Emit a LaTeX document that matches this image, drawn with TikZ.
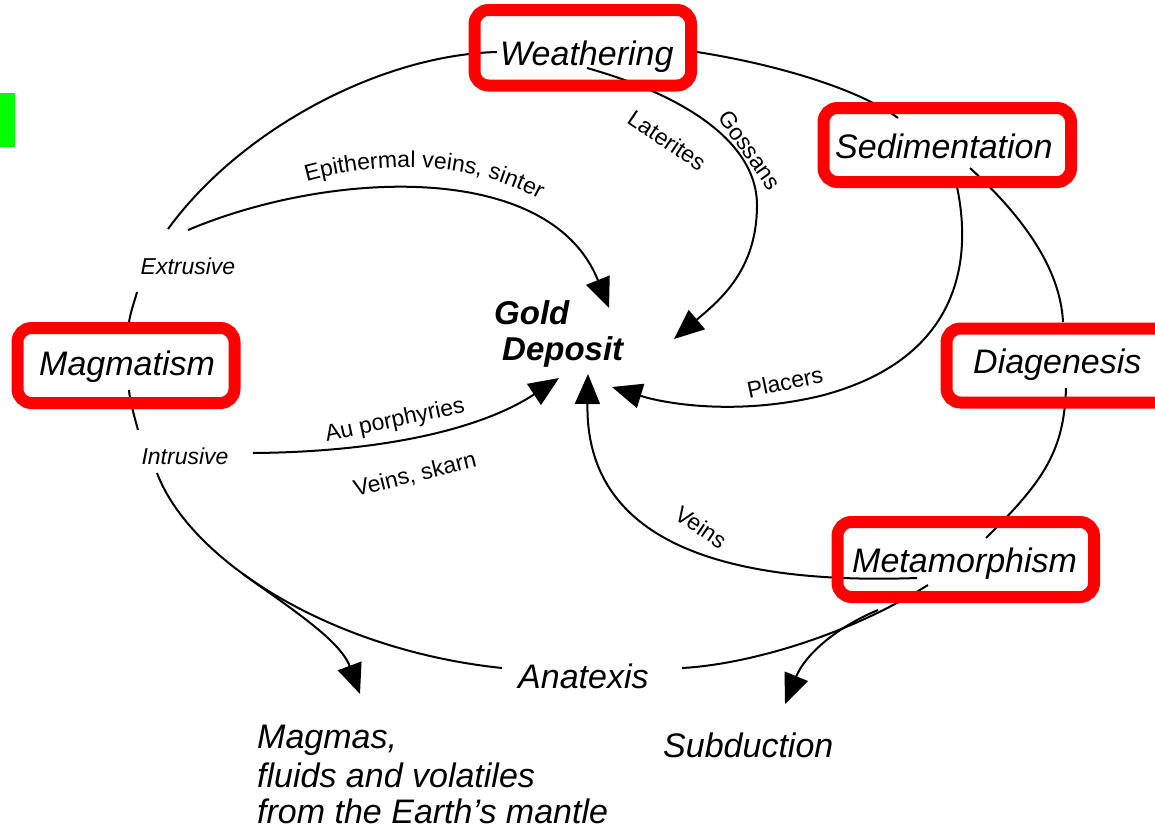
\documentclass[tikz,border=0pt]{standalone}
\usepackage{fontspec}
\setmainfont{Liberation Sans}
\usetikzlibrary{arrows.meta,decorations.text}
\newcommand\smallf{\fontsize{23}{26}\selectfont}
\newcommand\bigf{\fontsize{34}{40}\selectfont\itshape}
\begin{document}
\begin{tikzpicture}[x=1pt,y=-1pt,
  curve/.style={line width=2pt, black},
  arr/.style={curve, -{Triangle[length=30pt,width=25pt]}},
  redbox/.style={draw=red, line width=12pt, rounded corners=14pt},
  lbl/.style={inner sep=0pt, font=\bigf, anchor=base west},
  small/.style={inner sep=0pt, font=\smallf},
  smallit/.style={inner sep=0pt, font=\smallf\itshape},
  boldit/.style={inner sep=0pt, font=\fontsize{33}{36}\selectfont\bfseries\itshape, anchor=base west}]
\useasboundingbox (0,0) rectangle (1155,830);
\clip (0,0) rectangle (1155,830);
\fill[white] (0,0) rectangle (1155,830);
\fill[green] (0,93) rectangle (15,147);

% ---- texts
\node[lbl] (weath) at (500,65) {Weathering};
\node[lbl] (sedim) at (835,158) {Sedimentation};
\node[lbl] (magma) at (39,375) {Magmatism};
\node[lbl] (diag) at (973,373) {Diagenesis};
\node[lbl] (meta) at (852,572) {Metamorphism};
\node[lbl] (anat) at (518,688) {Anatexis};
\node[lbl] (subd) at (663,757) {Subduction};
\node[lbl] (mant1) at (257,748) {Magmas,};
\node[lbl] (mant2) at (257,787) {fluids and volatiles};
\node[lbl] (mant3) at (257,823) {from the Earth’s mantle};
\node[boldit] (gold) at (494,324) {Gold};
\node[boldit] (dep) at (502,360) {Deposit};
\node[smallit] (extr) at (188,266) {Extrusive};
\node[smallit] (intr) at (185,456) {Intrusive};
\node[small, rotate=-34] (later) at (667,140) {Laterites};
\node[small, rotate=-55] (goss) at (750,150) {Gossans};
\node[small, rotate=12] (plac) at (785,382) {Placers};
\node[small, rotate=-34] (veins) at (701,527) {Veins};
\node[small, rotate=12] (auporph) at (395,421) {Au porphyries};
\node[small, rotate=14] (skarn) at (415,475) {Veins, skarn};
\path[decorate, decoration={text along path, text align=center,
  text={|\smallf|Epithermal veins, sinter}}]
  (297,184) .. controls (380,160) and (470,158) .. (548,204);

% ---- coordinates
\coordinate (exT) at (168,229);
\coordinate (weL) at (497,52);
\coordinate (weR) at (697,52);
\coordinate (seL) at (898,118);
\coordinate (seR) at (970,168);
\coordinate (diT) at (1063,322);
\coordinate (diB) at (1066,388);
\coordinate (meT) at (986,538);
\coordinate (meB) at (928,585);
\coordinate (anR) at (682,668);
\coordinate (anL) at (502,668);
\coordinate (inB) at (157,473);
\coordinate (inT) at (138,430);
\coordinate (maB) at (129,390);
\coordinate (maT) at (129,322);
\coordinate (exB) at (137,292);
\coordinate (epS) at (188,230);
\coordinate (epE) at (609,308);
\coordinate (laS) at (587,68);
\coordinate (laE) at (674,339);
\coordinate (plS) at (955,178);
\coordinate (plE) at (612,387);
\coordinate (veS) at (917,578);
\coordinate (veE) at (588,374);
\coordinate (poS) at (253,453);
\coordinate (poE) at (559,378);
\coordinate (mgS) at (243,574);
\coordinate (mgE) at (360,694);
\coordinate (suS) at (878,610);
\coordinate (suE) at (785,704);

% ---- outer cycle
\draw[curve] (exT) .. controls (240,130) and (380,55) .. (weL);
\draw[curve] (weR) .. controls (780,65) and (860,90) .. (seL);
\draw[curve] (seR) .. controls (1010,205) and (1060,260) .. (diT);
\draw[curve] (diB) .. controls (1064,450) and (1045,480) .. (meT);
\draw[curve] (meB) .. controls (840,640) and (740,665) .. (anR);
\draw[curve] (anL) .. controls (330,650) and (190,560) .. (inB);
\draw[curve] (inT) .. controls (134,415) and (130,402) .. (maB);
\draw[curve] (maT) .. controls (131,310) and (135,300) .. (exB);

% ---- arrows to the deposit
\draw[arr] (epS) .. controls (330,170) and (550,160) .. (epE);
\draw[arr] (laS) .. controls (700,100) and (757,150) .. (757,205)
               .. controls (757,270) and (720,300) .. (laE);
\draw[arr] (plS) .. controls (975,260) and (960,360) .. (820,396)
               .. controls (740,415) and (670,405) .. (plE);
\draw[arr] (veS) .. controls (720,585) and (585,540) .. (veE);
\draw[arr] (poS) .. controls (380,452) and (480,430) .. (poE);
\draw[arr] (mgS) .. controls (290,608) and (340,640) .. (mgE);
\draw[arr] (suS) .. controls (835,628) and (805,655) .. (suE);

% ---- red frames
\node[redbox, minimum width=216.5pt, minimum height=75.5pt] (bweath) at (582.75,47.75) {};
\node[redbox, minimum width=247.5pt, minimum height=74pt] (bsedim) at (947.25,145) {};
\node[redbox, minimum width=217pt, minimum height=75pt] (bmagma) at (126,365.5) {};
\node[redbox, minimum width=224pt, minimum height=74pt] (bdiag) at (1058.5,365.5) {};
\node[redbox, minimum width=256.5pt, minimum height=75pt] (bmeta) at (965.75,559.5) {};
\end{tikzpicture}
\end{document}
